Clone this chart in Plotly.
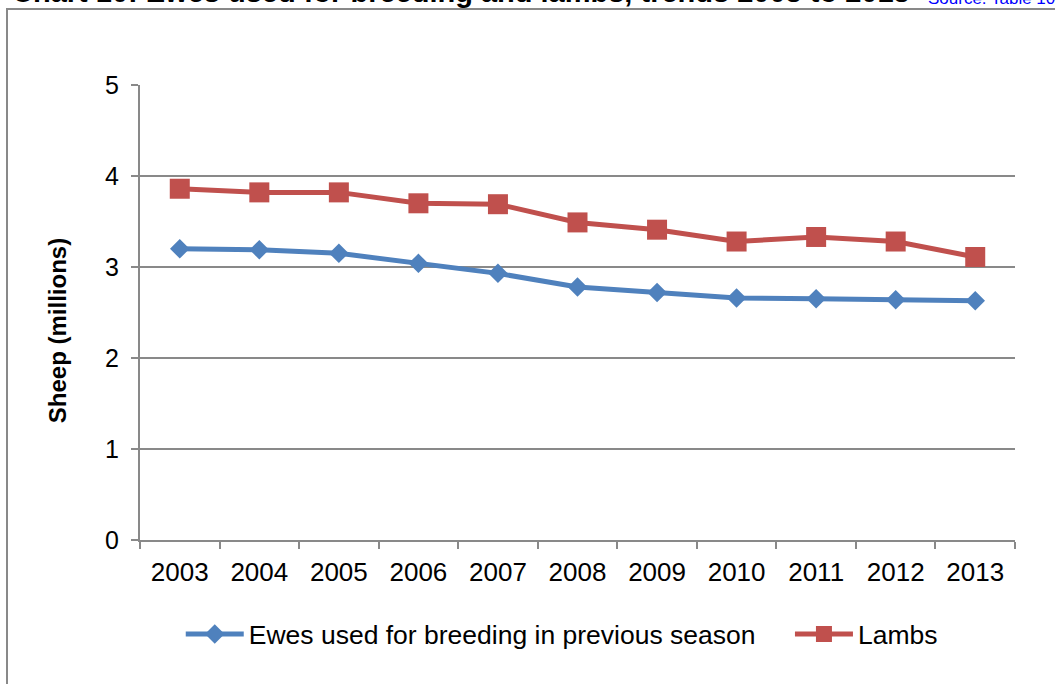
import plotly.graph_objects as go

# Survey years and flock sizes (millions of head)
years = ["2003", "2004", "2005", "2006", "2007", "2008",
         "2009", "2010", "2011", "2012", "2013"]
ewes = [3.20, 3.19, 3.15, 3.04, 2.93, 2.78, 2.72, 2.66, 2.65, 2.64, 2.63]
lambs = [3.86, 3.82, 3.82, 3.70, 3.69, 3.49, 3.41, 3.28, 3.33, 3.28, 3.11]
y_ticks = [0, 1, 2, 3, 4, 5]

title_text = "Chart 10: Ewes used for breeding and lambs, trends 2003 to 2013"
source_text = "Source: Table 10"
y_title = "Sheep (millions)"

BLUE = "#4F81BD"
RED = "#C0504D"
GRID = "#898989"
FONT = "Liberation Sans, Arial, sans-serif"
PAD = "\u00a0" * 4  # extra room between the two legend entries

fig = go.Figure()
fig.add_trace(go.Scatter(
    x=years, y=ewes, name="Ewes used for breeding in previous season" + PAD,
    mode="lines+markers",
    line=dict(color=BLUE, width=5),
    marker=dict(symbol="diamond", size=15, color=BLUE),
))
fig.add_trace(go.Scatter(
    x=years, y=lambs, name="Lambs",
    mode="lines+markers",
    line=dict(color=RED, width=5),
    marker=dict(symbol="square", size=20, color=RED),
))

fig.update_layout(
    width=1055, height=684,
    margin=dict(l=140, r=40, t=85, b=144),
    paper_bgcolor="white", plot_bgcolor="white",
    font=dict(family=FONT, color="black"),
    showlegend=True,
    legend=dict(
        orientation="h", x=0.482, xanchor="center", y=-0.207, yanchor="middle",
        font=dict(size=26.5, family=FONT, color="black"),
        itemwidth=58, bgcolor="rgba(0,0,0,0)",
    ),
    xaxis=dict(
        type="category", range=[-0.5, 10.5],
        showgrid=False, showline=True, linecolor=GRID, linewidth=2,
        ticks="outside", tickson="boundaries", ticklen=7, tickwidth=2,
        tickcolor=GRID, tickfont=dict(size=26, family=FONT, color="black"),
        ticklabelstandoff=8, zeroline=False,
    ),
    yaxis=dict(
        range=[0, 5], tickvals=y_ticks,
        showgrid=True, gridcolor=GRID, gridwidth=2,
        showline=True, linecolor=GRID, linewidth=2,
        ticks="outside", ticklen=7, tickwidth=2, tickcolor=GRID,
        tickfont=dict(size=25, family=FONT, color="black"),
        ticklabelstandoff=7, zeroline=False,
    ),
    annotations=[
        dict(text=y_title, textangle=-90, xref="paper", yref="paper",
             x=0, y=0.459, xshift=-83, xanchor="center", yanchor="middle",
             showarrow=False, font=dict(size=24, family=FONT, color="black",
                                        weight="bold")),
        dict(text="<b>" + title_text + "</b>", xref="paper", yref="paper",
             x=0, y=1, xshift=-130, yshift=75, xanchor="left", yanchor="bottom",
             showarrow=False, font=dict(size=29, family=FONT, color="black")),
        dict(text=source_text, xref="paper", yref="paper",
             x=0, y=1, xshift=786, yshift=75, xanchor="left", yanchor="bottom",
             showarrow=False, font=dict(size=17, family=FONT, color="#0000FF")),
    ],
    shapes=[
        dict(type="rect", xref="paper", yref="paper",
             xsizemode="pixel", ysizemode="pixel", xanchor=0, yanchor=1,
             x0=-133, x1=930, y0=76, y1=-620,
             line=dict(color=GRID, width=2), fillcolor="rgba(0,0,0,0)",
             layer="below"),
    ],
)

fig.write_html("out.html")
